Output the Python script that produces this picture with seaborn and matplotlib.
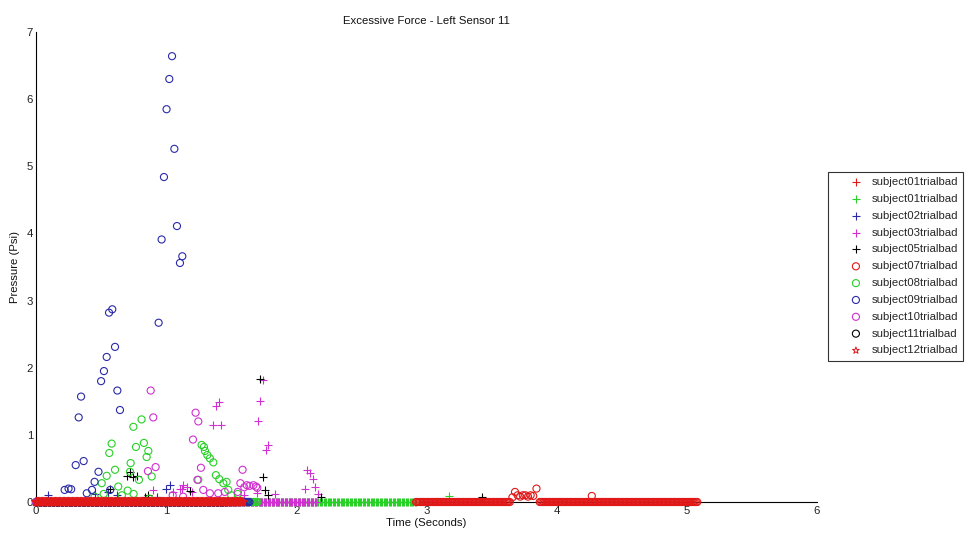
import numpy as np
import pandas as pd
import matplotlib
matplotlib.use("Agg")
import matplotlib.pyplot as plt
import seaborn as sns

# ---------------- data ----------------
series_labels = ["subject01trialbad", "subject01trialbad", "subject02trialbad",
                 "subject03trialbad", "subject05trialbad", "subject07trialbad",
                 "subject08trialbad", "subject09trialbad", "subject10trialbad",
                 "subject11trialbad", "subject12trialbad"]
series_colors = ["#e01818", "#28d028", "#2a2aa8", "#d030d0", "#000000",
                 "#e01818", "#28d028", "#2a2aa8", "#d030d0", "#000000", "#e01818"]
series_markers = ["+", "+", "+", "+", "+", "o", "o", "o", "o", "o", "*"]

# time spans (seconds) where each trial sits at 0 psi, sampled every 0.01 s
sample_step = 0.01
zero_spans = [
    [(0.00, 1.55)],
    [(0.00, 2.92)],
    [(0.00, 1.50)],
    [(0.00, 2.15)],
    [(0.00, 1.45)],
    [(2.92, 3.64), (3.87, 5.08)],
    [(0.00, 1.70)],
    [(0.00, 1.64)],
    [(0.00, 1.58)],
    [],
    [(0.00, 1.59)],
]

# non-zero samples (time, pressure)
s01r_t = []
s01r_v = []
s01g_t = [0.55, 3.17]
s01g_v = [0.06, 0.09]
s02_t = [0.095, 0.45, 0.55, 0.62, 0.93, 1.00, 1.03, 1.60]
s02_v = [0.10, 0.12, 0.15, 0.10, 0.08, 0.20, 0.25, 0.05]
s03_t = [0.90, 1.05, 1.105, 1.12, 1.13, 1.16, 1.20, 1.362, 1.382, 1.408, 1.421,
         1.60, 1.70, 1.707, 1.720, 1.746, 1.767, 1.784, 1.835, 2.066, 2.084,
         2.104, 2.125, 2.14, 2.17]
s03_v = [0.18, 0.15, 0.20, 0.19, 0.25, 0.23, 0.15, 1.15, 1.43, 1.49, 1.15,
         0.10, 0.13, 1.21, 1.50, 1.82, 0.78, 0.85, 0.12, 0.20, 0.47,
         0.43, 0.35, 0.22, 0.12]
s05_t = [0.568, 0.697, 0.722, 0.747, 0.778, 0.84, 0.86, 1.18, 1.72, 1.745,
         1.76, 1.78, 2.19, 3.43]
s05_v = [0.20, 0.38, 0.44, 0.37, 0.39, 0.08, 0.10, 0.17, 1.83, 0.37,
         0.18, 0.10, 0.07, 0.07]
s07_t = [3.66, 3.68, 3.70, 3.72, 3.74, 3.76, 3.78, 3.80, 3.82, 3.845, 4.27]
s07_v = [0.07, 0.15, 0.10, 0.08, 0.10, 0.10, 0.08, 0.10, 0.09, 0.20, 0.09]
s08_t = [0.45, 0.505, 0.52, 0.543, 0.563, 0.581, 0.607, 0.632, 0.66, 0.704,
         0.722, 0.727, 0.748, 0.75, 0.768, 0.791, 0.811, 0.829, 0.850, 0.863,
         0.87, 0.889, 1.247, 1.272, 1.290, 1.298, 1.316, 1.336, 1.362, 1.382,
         1.408, 1.439, 1.464, 1.477, 1.50, 1.55]
s08_v = [0.08, 0.28, 0.12, 0.39, 0.73, 0.87, 0.48, 0.23, 0.10, 0.17,
         0.45, 0.58, 1.12, 0.12, 0.82, 0.33, 1.23, 0.88, 0.67, 0.76,
         0.05, 0.38, 0.33, 0.85, 0.82, 0.76, 0.70, 0.65, 0.59, 0.40,
         0.34, 0.28, 0.30, 0.18, 0.10, 0.12]
s09_t = [0.22, 0.25, 0.27, 0.305, 0.328, 0.346, 0.366, 0.39, 0.43, 0.45,
         0.48, 0.50, 0.522, 0.543, 0.561, 0.57, 0.586, 0.607, 0.625, 0.645,
         0.942, 0.965, 0.983, 1.003, 1.024, 1.045, 1.063, 1.083, 1.106, 1.124]
s09_v = [0.18, 0.20, 0.19, 0.55, 1.26, 1.57, 0.61, 0.13, 0.18, 0.30,
         0.45, 1.80, 1.95, 2.16, 2.82, 0.18, 2.87, 2.31, 1.66, 1.37,
         2.67, 3.91, 4.84, 5.85, 6.30, 6.64, 5.26, 4.11, 3.56, 3.66]
s10_t = [0.86, 0.881, 0.901, 0.919, 1.05, 1.13, 1.206, 1.226, 1.24, 1.247,
         1.267, 1.285, 1.336, 1.40, 1.45, 1.55, 1.57, 1.587, 1.60, 1.62,
         1.64, 1.67, 1.69, 1.70]
s10_v = [0.46, 1.66, 1.26, 0.52, 0.10, 0.08, 0.93, 1.33, 0.33, 1.20,
         0.51, 0.18, 0.13, 0.13, 0.15, 0.15, 0.28, 0.48, 0.22, 0.25,
         0.24, 0.25, 0.23, 0.21]
s11_t = []
s11_v = []
s12_t = []
s12_v = []

peak_times = [s01r_t, s01g_t, s02_t, s03_t, s05_t, s07_t, s08_t, s09_t, s10_t, s11_t, s12_t]
peak_values = [s01r_v, s01g_v, s02_v, s03_v, s05_v, s07_v, s08_v, s09_v, s10_v, s11_v, s12_v]

x_ticks = [0, 1, 2, 3, 4, 5, 6]
y_ticks = [0, 1, 2, 3, 4, 5, 6, 7]

# ---------------- style ----------------
sns.set_theme(style="white")
plt.rcParams["font.family"] = ["Liberation Sans", "DejaVu Sans"]
FS = 8.2
plt.rcParams["font.size"] = FS

fig = plt.figure(figsize=(9.69, 5.39), dpi=100)
ax = fig.add_axes([36 / 969, 1 - 502 / 539, (817 - 36) / 969, (502 - 32) / 539])

handles = []
for i, lab in enumerate(series_labels):
    t_parts, v_parts = [np.array([])], [np.array([])]
    for (a, b) in zero_spans[i]:
        tt = np.arange(a, b + 1e-9, sample_step)
        t_parts.append(tt)
        v_parts.append(np.zeros_like(tt))
    t_parts.append(np.asarray(peak_times[i], dtype=float))
    v_parts.append(np.asarray(peak_values[i], dtype=float))
    df = pd.DataFrame({"t": np.concatenate(t_parts), "p": np.concatenate(v_parts)})
    c = series_colors[i]
    m = series_markers[i]
    if m == "+":
        kw = dict(marker="+", color=c, s=36, linewidth=0.8)
    elif m == "o":
        kw = dict(marker="o", facecolor="none", edgecolor=c, s=26, linewidth=0.8)
    else:
        kw = dict(marker="*", facecolor="none", edgecolor=c, s=42, linewidth=1.0)
    if len(df):
        sns.scatterplot(data=df, x="t", y="p", ax=ax, legend=False,
                        clip_on=False, zorder=3, **kw)
    lk = dict(kw)
    if m == "*":
        lk["s"] = 26
        lk["linewidth"] = 0.7
    h = ax.scatter([], [], label=lab, **lk)
    handles.append(h)

ax.set_xlim(0, 6)
ax.set_ylim(0, 7)
ax.set_xticks(x_ticks)
ax.set_yticks(y_ticks)
ax.set_xticklabels([str(v) for v in x_ticks])
ax.set_yticklabels([str(v) for v in y_ticks])
for side in ["top", "right"]:
    ax.spines[side].set_visible(False)
for side in ["left", "bottom"]:
    ax.spines[side].set_color("black")
    ax.spines[side].set_linewidth(0.8)
ax.tick_params(axis="both", direction="in", length=6, width=0.8,
               color="#333333", labelsize=FS, labelcolor="#222222", pad=3)
ax.tick_params(axis="y", pad=2)

ax.set_title("Excessive Force - Left Sensor 11", fontsize=FS, pad=5.5, color="#111111")
ax.set_xlabel("Time (Seconds)", fontsize=FS, labelpad=1, color="#111111")
ax.set_ylabel("Pressure (Psi)", fontsize=FS, labelpad=5, color="#111111")

leg = fig.legend(handles=handles, labels=series_labels, loc="upper left",
                 bbox_to_anchor=(828 / 969, 1 - 172 / 539), borderaxespad=0,
                 fontsize=FS, frameon=True, fancybox=False, edgecolor="black",
                 labelspacing=0.6, handletextpad=-0.6, borderpad=0.45,
                 handlelength=4.0, scatterpoints=1)
leg.get_frame().set_linewidth(0.8)

fig.savefig("out.png", dpi=100, facecolor="white")
